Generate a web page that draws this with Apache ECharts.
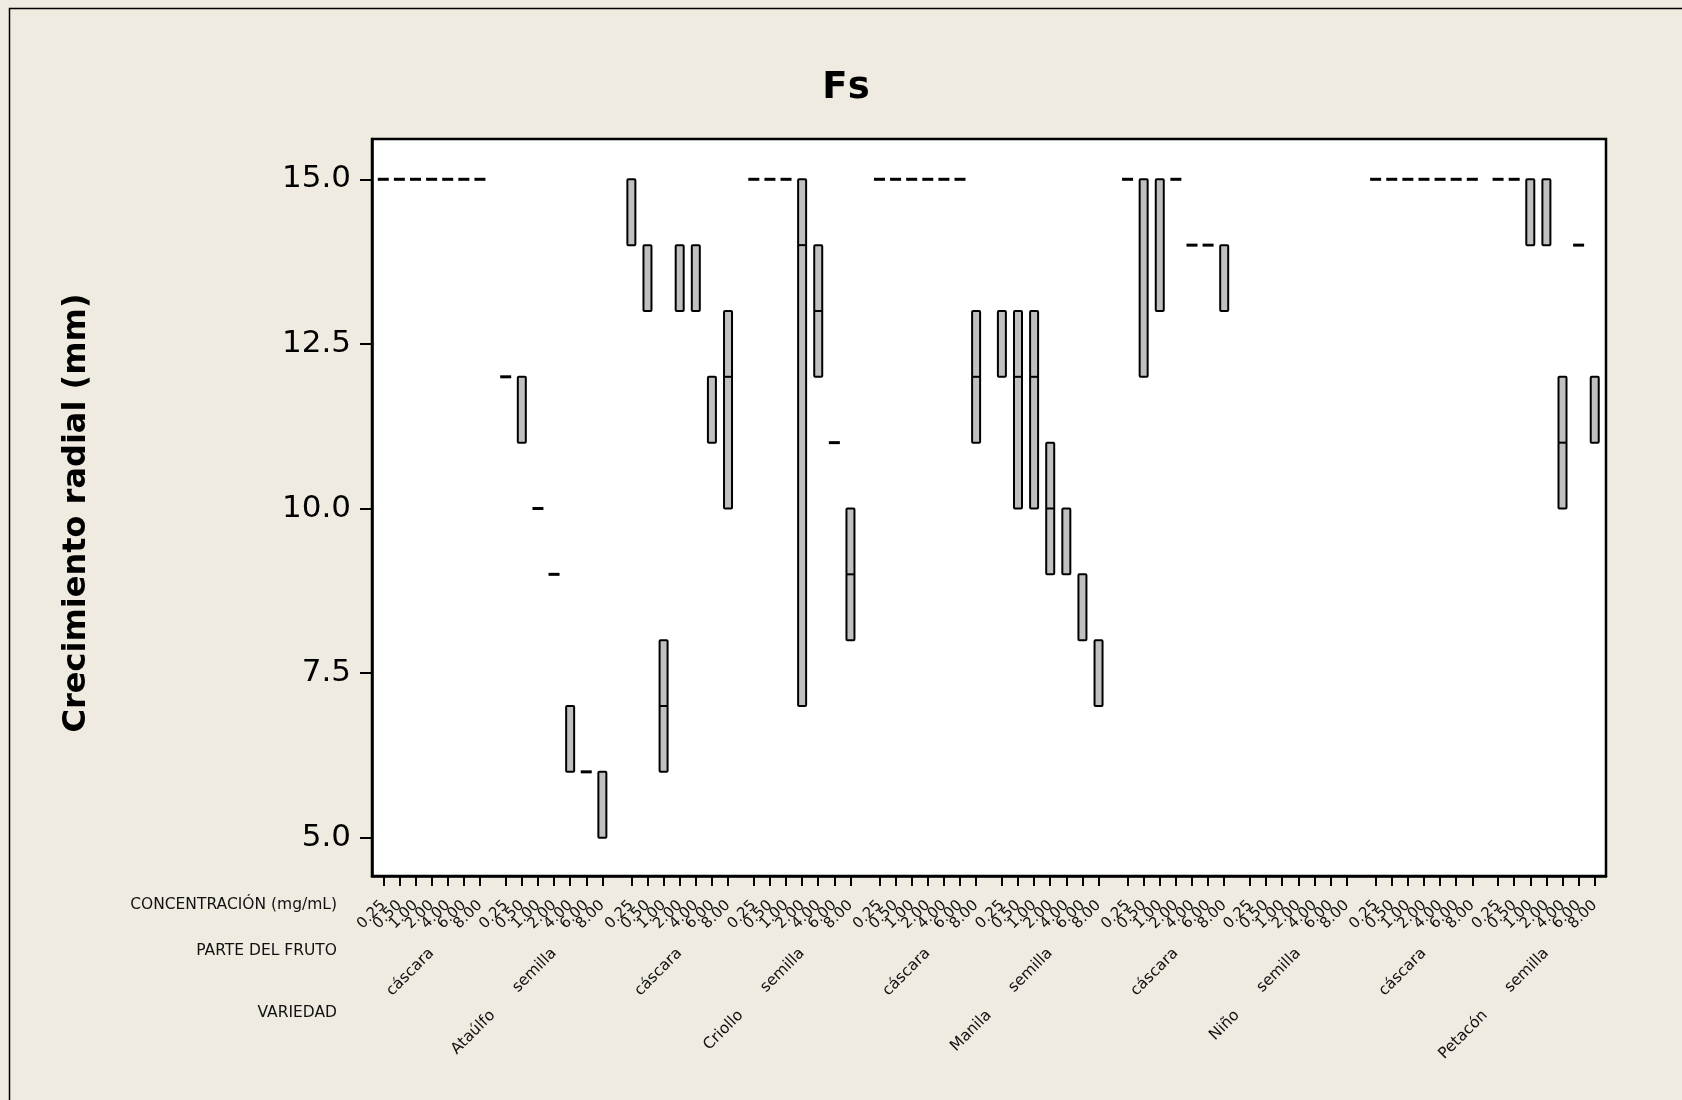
<!DOCTYPE html>
<html>
<head>
<meta charset="utf-8">
<script src="https://cdn.jsdelivr.net/npm/echarts@6/dist/echarts.min.js"></script>
<style>
  html, body { margin: 0; padding: 0; background: #efebe1; }
  #chart { width: 1682px; height: 1100px; }
</style>
</head>
<body>
<div id="chart"></div>
<script>
// ---------------- data ----------------
const title = 'Fs';
const yTitle = 'Crecimiento radial (mm)';
const varieties = ['Ataúlfo', 'Criollo', 'Manila', 'Niño', 'Petacón'];
const parts = ['cáscara', 'semilla'];
const concentrations = ['0.25', '0.50', '1.00', '2.00', '4.00', '6.00', '8.00'];
const yTicks = [5.0, 7.5, 10.0, 12.5, 15.0];

// each entry: [Q1, median, Q3] for concentrations 0.25 ... 8.00 ; null = no data
const ataulfoCascara = [[15,15,15],[15,15,15],[15,15,15],[15,15,15],[15,15,15],[15,15,15],[15,15,15]];
const ataulfoSemilla = [[12,12,12],[11,12,12],[10,10,10],[9,9,9],[6,7,7],[6,6,6],[5,6,6]];
const criolloCascara = [[14,15,15],[13,14,14],[6,7,8],[13,14,14],[13,14,14],[11,12,12],[10,12,13]];
const criolloSemilla = [[15,15,15],[15,15,15],[15,15,15],[7,14,15],[12,13,14],[11,11,11],[8,9,10]];
const manilaCascara  = [[15,15,15],[15,15,15],[15,15,15],[15,15,15],[15,15,15],[15,15,15],[11,12,13]];
const manilaSemilla  = [[12,13,13],[10,12,13],[10,12,13],[9,10,11],[9,10,10],[8,9,9],[7,8,8]];
const ninoCascara    = [[15,15,15],[12,15,15],[13,15,15],[15,15,15],[14,14,14],[14,14,14],[13,14,14]];
const ninoSemilla    = [null, null, null, null, null, null, null];
const petaconCascara = [[15,15,15],[15,15,15],[15,15,15],[15,15,15],[15,15,15],[15,15,15],[15,15,15]];
const petaconSemilla = [[15,15,15],[15,15,15],[14,15,15],[14,15,15],[10,11,12],[14,14,14],[11,12,12]];

const groups = [
  [ataulfoCascara, ataulfoSemilla],
  [criolloCascara, criolloSemilla],
  [manilaCascara, manilaSemilla],
  [ninoCascara, ninoSemilla],
  [petaconCascara, petaconSemilla]
];

// ---------------- layout of category slots ----------------
const STEP = 5, PART_GAP = 8, VAR_GAP = 9, LEAD = 3, TRAIL = 3;
let pos = LEAD - STEP;
const boxData = [];
const concAt = {}, partAt = {}, varAt = {};
varieties.forEach((v, vi) => {
  let varFirst = null, varLast = null;
  parts.forEach((p, pi) => {
    let first = null;
    concentrations.forEach((c, ci) => {
      if (ci === 0) {
        pos += (vi === 0 && pi === 0) ? STEP : (pi === 0 ? VAR_GAP : PART_GAP);
      } else {
        pos += STEP;
      }
      if (ci === 0) first = pos;
      if (varFirst === null) varFirst = pos;
      varLast = pos;
      concAt[pos] = c;
      const d = groups[vi][pi][ci];
      if (d) boxData.push([pos, d[0], d[1], d[2]]);
    });
    partAt[first + 3 * STEP] = p;
  });
  varAt[(varFirst + varLast) / 2] = v;
});
const N = pos + 1 + TRAIL;
const concCats = [], partCats = [], varCats = [];
for (let i = 0; i < N; i++) {
  // blank sentinels at both ends keep the first/last real labels from being auto-hidden
  concCats.push(concAt[i] || ((i === 0 || i === N - 1) ? ' ' : ''));
  partCats.push(partAt[i] || '');
  varCats.push(varAt[i] || '');
}
const isConcTick = (i) => concAt[i] !== undefined;
const isConcLabel = (i) => concCats[i] !== '';
const isPart = (i) => partCats[i] !== '';
const isVar = (i) => varCats[i] !== '';

// ---------------- chart ----------------
const FONT = 'DejaVu Sans';
const chart = echarts.init(document.getElementById('chart'), null, { renderer: 'canvas' });

function renderBox(params, api) {
  const x = api.value(0), q1 = api.value(1), md = api.value(2), q3 = api.value(3);
  const lo = api.coord([x, q1]);
  const hi = api.coord([x, q3]);
  const mid = api.coord([x, md]);
  const hw = 4;
  if (q1 === q3) {
    return {
      type: 'line',
      shape: { x1: lo[0] - 5.5, y1: lo[1], x2: lo[0] + 5.5, y2: lo[1] },
      style: { stroke: '#000', lineWidth: 3 }
    };
  }
  const children = [{
    type: 'rect',
    shape: { x: lo[0] - hw, y: hi[1], width: hw * 2, height: lo[1] - hi[1], r: 1 },
    style: { fill: '#c0c0c0', stroke: '#000', lineWidth: 2 }
  }];
  if (md > q1 && md < q3) {
    children.push({
      type: 'line',
      shape: { x1: lo[0] - hw, y1: mid[1], x2: lo[0] + hw, y2: mid[1] },
      style: { stroke: '#000', lineWidth: 2 }
    });
  }
  return { type: 'group', children };
}

const hiddenAxisBits = {
  axisLine: { show: false }, axisTick: { show: false }, splitLine: { show: false }
};

chart.setOption({
  animation: false,
  backgroundColor: '#efebe1',
  grid: {
    left: 372, right: 76, top: 139, bottom: 224,
    show: true, backgroundColor: '#ffffff', borderColor: '#000', borderWidth: 2.5,
    containLabel: false, outerBoundsMode: 'none'
  },
  graphic: [
    { type: 'rect', silent: true, shape: { x: 9.5, y: 8.5, width: 1700, height: 1200 },
      style: { fill: 'none', stroke: '#000', lineWidth: 1.5 } },
    { type: 'text', silent: true, style: { text: title, x: 846, y: 88, textAlign: 'center', textVerticalAlign: 'middle',
      font: 'bold 37px "' + FONT + '"', fill: '#000' } },
    { type: 'text', silent: true, x: 77, y: 513, rotation: Math.PI / 2,
      style: { text: yTitle, x: 0, y: 0, textAlign: 'center', textVerticalAlign: 'middle',
        font: 'bold 32px "' + FONT + '"', fill: '#000' } },
    { type: 'text', silent: true, style: { text: 'CONCENTRACIÓN (mg/mL)', x: 337, y: 905, textAlign: 'right', textVerticalAlign: 'middle',
      font: '15.5px "' + FONT + '"', fill: '#111' } },
    { type: 'text', silent: true, style: { text: 'PARTE DEL FRUTO', x: 337, y: 951, textAlign: 'right', textVerticalAlign: 'middle',
      font: '15.5px "' + FONT + '"', fill: '#111' } },
    { type: 'text', silent: true, style: { text: 'VARIEDAD', x: 337, y: 1013, textAlign: 'right', textVerticalAlign: 'middle',
      font: '15.5px "' + FONT + '"', fill: '#111' } }
  ],
  xAxis: [
    {
      type: 'category', gridIndex: 0, data: concCats, position: 'bottom', boundaryGap: true,
      axisLine: { show: true, lineStyle: { color: '#000', width: 2.5 } },
      axisTick: { show: true, alignWithLabel: true, interval: (i) => isConcTick(i), length: 10,
        lineStyle: { color: '#000', width: 2 } },
      axisLabel: { interval: (i) => isConcLabel(i), rotate: 45, margin: 27, fontSize: 15,
        fontFamily: FONT, color: '#111', hideOverlap: false },
      splitLine: { show: false }
    },
    Object.assign({
      type: 'category', gridIndex: 0, data: partCats, position: 'bottom', boundaryGap: true,
      axisLabel: { interval: (i) => isPart(i), rotate: 45, margin: 75, fontSize: 15.5,
        fontFamily: FONT, color: '#111', showMinLabel: true, showMaxLabel: true }
    }, hiddenAxisBits),
    Object.assign({
      type: 'category', gridIndex: 0, data: varCats, position: 'bottom', boundaryGap: true,
      axisLabel: { interval: (i) => isVar(i), rotate: 45, margin: 137, fontSize: 15.5,
        fontFamily: FONT, color: '#111', showMinLabel: true, showMaxLabel: true }
    }, hiddenAxisBits)
  ],
  yAxis: {
    type: 'value', min: 4.418, max: 15.612,
    axisLine: { show: true, lineStyle: { color: '#000', width: 2.5 } },
    axisTick: { show: true, length: 12, customValues: yTicks, lineStyle: { color: '#000', width: 2 } },
    axisLabel: { customValues: yTicks, margin: 21, fontSize: 31, fontFamily: FONT, color: '#000',
      formatter: (v) => Number(v).toFixed(1) },
    splitLine: { show: false }
  },
  series: [{
    type: 'custom',
    xAxisIndex: 0, yAxisIndex: 0,
    renderItem: renderBox,
    encode: { x: 0, y: [1, 2, 3] },
    data: boxData,
    clip: false
  }]
});
</script>
</body>
</html>
